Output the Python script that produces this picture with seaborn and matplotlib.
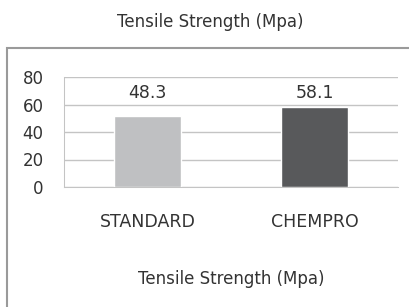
import matplotlib
matplotlib.use("Agg")
import matplotlib.pyplot as plt
import seaborn as sns
import pandas as pd
from matplotlib.patches import Rectangle
from matplotlib.ticker import FixedLocator

# 数据
categories = ["STANDARD", "CHEMPRO"]
bar_heights = [51.6, 58.4]
bar_labels = ["48.3", "58.1"]
bar_colors = ["#bfc0c2", "#58595b"]
label_y = 68.4
title = "Tensile Strength (Mpa)"

df = pd.DataFrame({"cat": categories, "val": bar_heights})

sns.set_theme(style="white")
plt.rcParams['font.family'] = ['DejaVu Sans']
text_color = "#333333"
grid_color = "#c4c4c4"

fig = plt.figure(figsize=(4.1, 3.07), dpi=100)
ax = fig.add_axes([64 / 410, 1 - 187 / 307, (398 - 64) / 410, 110 / 307])

sns.barplot(data=df, x="cat", y="val", hue="cat", palette=bar_colors,
            width=0.4, legend=False, ax=ax, saturation=1)

ax.set_ylim(0, 80)
ax.set_xlim(-0.5, 1.5)
ax.set_yticks([0, 20, 40, 60, 80])
ax.yaxis.grid(True, color=grid_color, lw=1)
ax.set_axisbelow(True)
ax.tick_params(axis="y", length=4.3, width=0.75, color=grid_color,
               labelsize=12, labelcolor=text_color, pad=10.5)
ax.tick_params(axis="x", which="major", length=0, labelsize=12.5,
               labelcolor=text_color, pad=18.5)
ax.xaxis.set_minor_locator(FixedLocator([0.5]))
ax.tick_params(axis="x", which="minor", length=6, width=0.75, color=grid_color)

for s in ["top", "right"]:
    ax.spines[s].set_visible(False)
ax.spines["left"].set_color(grid_color)
ax.spines["left"].set_linewidth(0.75)
ax.spines["bottom"].set_color(grid_color)
ax.spines["bottom"].set_linewidth(0.75)

ax.set_ylabel("")
ax.set_xlabel(title, fontsize=12, color=text_color, labelpad=28.5)

for i, lab in enumerate(bar_labels):
    ax.text(i, label_y, lab, ha="center", va="center", fontsize=12.5,
            color=text_color)

fig.text(210 / 410, 1 - 22 / 307, title, ha="center", va="center",
         fontsize=12, color=text_color)

# 外框
fig.patches.append(Rectangle((7 / 410, -0.1), 1.2, 1 - 48 / 307 + 0.1,
                             transform=fig.transFigure, fill=False,
                             edgecolor="#9a9a9a", lw=1.5, zorder=0))

fig.savefig("out.png", dpi=100)
